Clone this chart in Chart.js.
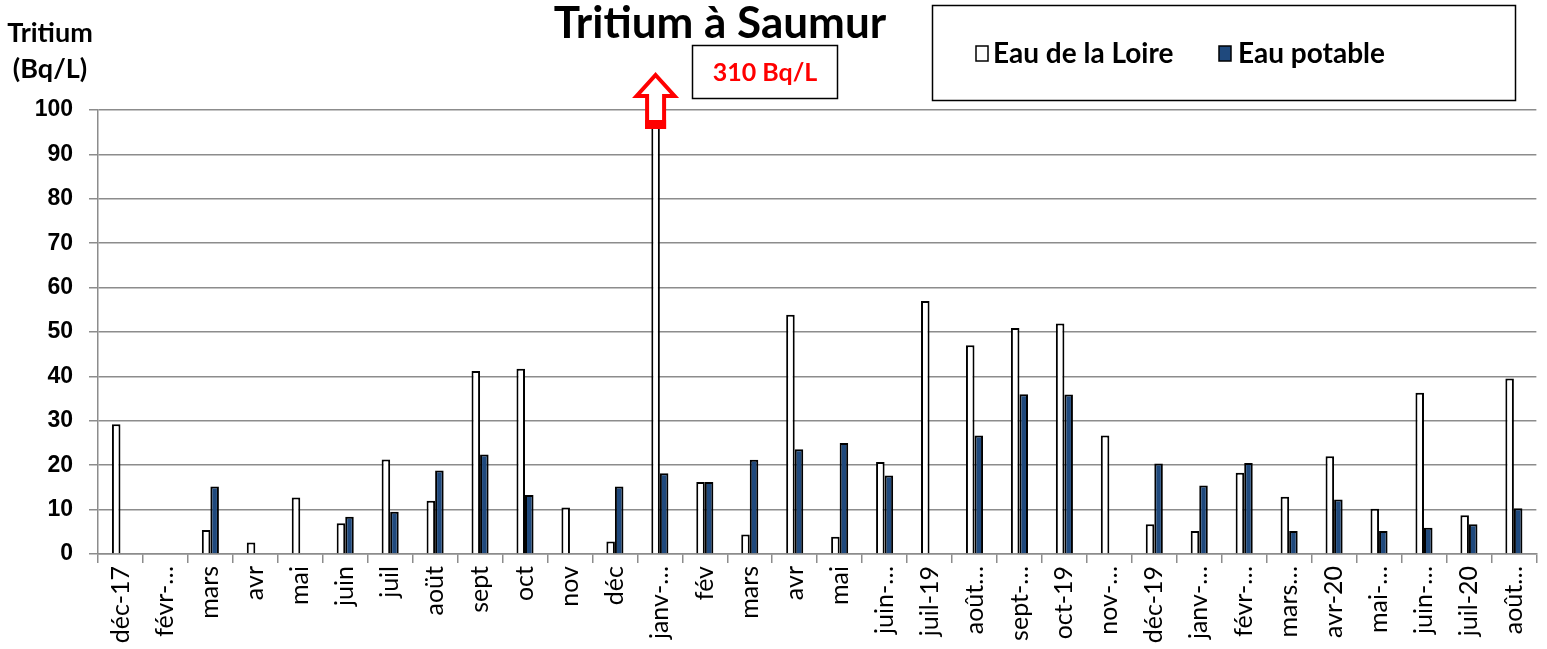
<!DOCTYPE html>
<html><head><meta charset="utf-8">
<script src="https://cdn.jsdelivr.net/npm/chart.js@4/dist/chart.umd.min.js"></script>
<style>html,body{margin:0;padding:0;background:#fff}#wrap{width:1547px;height:649px;position:relative}</style>
</head><body><div id="wrap"><canvas id="c" width="1547" height="649"></canvas></div>
<script>
const categories = ["déc-17","févr-…","mars","avr","mai","juin","juil","aoüt","sept","oct","nov","déc","janv-…","fév","mars","avr","mai","juin-…","juil-19","août…","sept-…","oct-19","nov-…","déc-19","janv-…","févr-…","mars…","avr-20","mai-…","juin-…","juil-20","août…"];
const loire = [29.2,null,5.4,2.6,12.7,6.9,21.3,12.0,41.2,41.7,10.5,2.8,310,16.2,4.4,53.9,3.9,20.7,57.0,47.0,50.9,51.9,26.7,6.7,5.2,18.3,12.9,22.0,10.2,36.3,8.7,39.5];
const potable = [null,null,15.2,null,null,8.4,9.5,18.8,22.4,13.3,null,15.2,18.2,16.2,21.2,23.6,25.0,17.7,null,26.7,36.0,35.9,null,20.4,15.4,20.5,5.2,12.3,5.2,5.9,6.7,10.3];
const yTicks = [0,10,20,30,40,50,60,70,80,90,100];
const seriesNames = ["Eau de la Loire","Eau potable"];
const titleText = "Tritium à Saumur";
const yTitle = ["Tritium","(Bq/L)"];
const noteText = "310 Bq/L";
const noteIndex = 12;

const BLUE = '#1f497d';
const GRID = '#8c8c8c';
const SANS = 'Lato, "Open Sans", sans-serif';

const decor = {
  id:'decor',
  afterDatasetsDraw(chart){
    const ctx = chart.ctx;
    ctx.save();
    // title
    ctx.fillStyle='#000';
    ctx.font='bold 44px '+SANS;
    ctx.textAlign='center'; ctx.textBaseline='middle';
    ctx.fillText(titleText, 720, 24);
    // y title
    ctx.font='bold 27px '+SANS;
    ctx.fillText(yTitle[0], 50, 33);
    ctx.fillText(yTitle[1], 50, 69);
    // legend box
    ctx.lineWidth=1.5; ctx.strokeStyle='#000';
    ctx.strokeRect(932.5,5.5,583,95);
    ctx.font='bold 28px '+SANS;
    ctx.textAlign='left';
    ctx.fillStyle='#fff'; ctx.fillRect(976,46,12,15); ctx.strokeRect(976,46,12,15);
    ctx.fillStyle='#000'; ctx.fillText(seriesNames[0], 993, 54);
    ctx.fillStyle=BLUE; ctx.fillRect(1219,46,12,15); ctx.strokeRect(1219,46,12,15);
    ctx.fillStyle='#000'; ctx.fillText(seriesNames[1], 1238, 54);
    // note box
    ctx.strokeRect(692.5,45.5,145,53);
    ctx.fillStyle='#ff0000'; ctx.textAlign='center';
    ctx.font='bold 25px '+SANS;
    ctx.fillText(noteText, 765, 73);
    // arrow on the clipped bar
    const bar = chart.getDatasetMeta(0).data[noteIndex];
    const cx = bar.x;
    const tip=75, hb=96, hw=19, sw=8.5, bot=127;
    ctx.beginPath();
    ctx.moveTo(cx,tip); ctx.lineTo(cx+hw,hb); ctx.lineTo(cx+sw,hb); ctx.lineTo(cx+sw,bot);
    ctx.lineTo(cx-sw,bot); ctx.lineTo(cx-sw,hb); ctx.lineTo(cx-hw,hb); ctx.closePath();
    ctx.fillStyle='#fff'; ctx.fill();
    ctx.lineWidth=4; ctx.strokeStyle='#ff0000'; ctx.lineJoin='miter'; ctx.stroke();
    ctx.fillStyle='#ff0000'; ctx.fillRect(cx-sw-2,bot-7,2*sw+4,9);
    ctx.restore();
  }
};

new Chart(document.getElementById('c'),{
  type:'bar',
  data:{labels:categories,datasets:[
    {label:seriesNames[0],data:loire,backgroundColor:'#fff',borderColor:'#000',borderWidth:2,categoryPercentage:0.38,barPercentage:1},
    {label:seriesNames[1],data:potable,backgroundColor:BLUE,borderColor:'#000',borderWidth:2,categoryPercentage:0.38,barPercentage:1}
  ]},
  options:{
    responsive:false,animation:false,
    layout:{padding:{top:110,right:7,left:0,bottom:0}},
    plugins:{legend:{display:false},tooltip:{enabled:false},title:{display:false}},
    scales:{
      x:{
        grid:{display:true,drawOnChartArea:false,drawTicks:true,tickLength:9,color:GRID,lineWidth:1.5,offset:true},
        border:{display:true,color:GRID,width:1.5},
        ticks:{color:'#000',font:{family:SANS,size:25},minRotation:90,maxRotation:90,autoSkip:false,padding:3},
        afterFit(s){s.height=95;}
      },
      y:{
        min:0,max:100,
        afterBuildTicks(s){s.ticks=yTicks.map(v=>({value:v}));},
        grid:{color:GRID,lineWidth:1.5,tickLength:9},
        border:{display:true,color:GRID,width:1.5},
        ticks:{color:'#000',font:{family:'"Liberation Sans", Arial, sans-serif',size:23,weight:'bold'},padding:16},
        afterFit(s){s.width=98;}
      }
    }
  },
  plugins:[decor]
});
</script></body></html>
